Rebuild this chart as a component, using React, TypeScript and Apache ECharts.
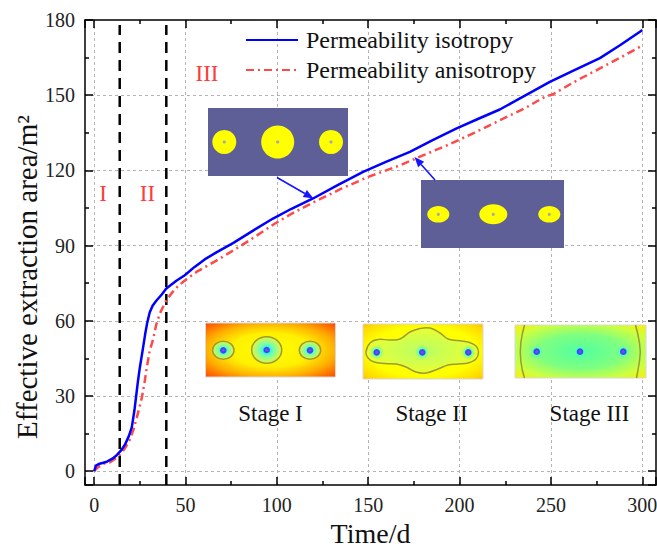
import React, { useEffect, useRef } from 'react';
import * as echarts from 'echarts';

const FONT = '"Liberation Serif", "Times New Roman", serif';

// Time (d) and effective extraction area (m²)
const isotropyData: [number, number][] = [
  [0, 0], [1, 2.2], [3, 3], [7, 3.8], [10, 5], [12.5, 6.5], [15, 8.5], [17, 10.8], [19, 14],
  [20.6, 17.5], [22, 24], [23, 30], [24, 36], [25, 41.3], [26.5, 48], [28, 55], [29, 59],
  [30.4, 63.3], [32, 66], [34, 68], [37, 70.5], [39.5, 72.9], [45, 76], [49.6, 78.2], [55, 81.5],
  [60.5, 84.5], [66.9, 87.3], [76, 91], [87, 96], [97.9, 100.8], [108, 104.7], [119.8, 108.8],
  [133, 114], [147.2, 119.4], [160, 123.5], [172.8, 127.4], [185, 132], [198.4, 136.8],
  [210, 140.5], [222, 144.3], [230.3, 147.6], [240, 151.5], [249.4, 155.3], [262, 159.7],
  [276.8, 164.8], [288, 170], [298.7, 175.3], [300, 176],
];

const anisotropyData: [number, number][] = [
  [0, 0], [2, 1.5], [5, 3], [8.5, 3.5], [12, 5.2], [14.9, 7.1], [17, 9.3], [19.4, 12.4],
  [21.5, 16.5], [23.3, 21.3], [24.8, 25.5], [26.1, 29.3], [27.5, 35], [28.8, 41.3], [30.4, 48],
  [32.4, 53], [34, 58.5], [36, 63], [39.5, 68.2], [44, 72.5], [48.6, 75.5], [56, 79.5],
  [66.9, 84], [76, 88], [85.2, 92.2], [97.9, 98.3], [108, 102.7], [119.8, 107.2], [135, 112.6],
  [150, 117.4], [167.3, 122], [180, 126], [194.7, 130.5], [208, 135], [222, 140],
  [235, 144.5], [247, 149.5], [251, 150.3], [262, 155], [276.8, 160.7], [288, 165],
  [298.7, 169.3], [300, 170.5],
];

// Stage boundaries (d)
const stageBoundaries = [14, 39.5];

const seriesNames = ['Permeability isotropy', 'Permeability anisotropy'];
const stageLabels = ['Stage I', 'Stage II', 'Stage III'];
const romanLabels = ['I', 'II', 'III'];

const X_MIN = -5;
const X_MAX = 307.5;
const Y_MIN = -5.5;
const Y_MAX = 180;

function arrow(x1: number, y1: number, x2: number, y2: number, color: string) {
  const dx = x2 - x1;
  const dy = y2 - y1;
  const len = Math.sqrt(dx * dx + dy * dy);
  const ux = dx / len;
  const uy = dy / len;
  const hl = 10;
  const hw = 4;
  const bx = x2 - ux * hl;
  const by = y2 - uy * hl;
  return [
    { type: 'line', z: 60, shape: { x1, y1, x2: bx, y2: by }, style: { stroke: color, lineWidth: 1.6 } },
    {
      type: 'polygon', z: 60,
      shape: { points: [[x2, y2], [bx - uy * hw, by + ux * hw], [bx + uy * hw, by - ux * hw]] },
      style: { fill: color },
    },
  ];
}

function well(cx: number, cy: number, glow: boolean) {
  const els: any[] = [];
  if (glow) {
    els.push({
      type: 'circle', z: 56, shape: { cx, cy, r: 8 },
      style: {
        fill: new echarts.graphic.RadialGradient(0.5, 0.5, 0.5, [
          { offset: 0, color: 'rgba(0,230,255,1)' },
          { offset: 0.5, color: 'rgba(60,255,200,0.6)' },
          { offset: 1, color: 'rgba(160,255,120,0)' },
        ]),
      },
    });
  }
  els.push({ type: 'circle', z: 57, shape: { cx, cy, r: 3.3 }, style: { fill: '#3050ff' } });
  els.push({ type: 'circle', z: 58, shape: { cx, cy, r: 1.2 }, style: { fill: '#b040c0' } });
  return els;
}

function buildGraphics() {
  const els: any[] = [];
  // Roman numerals
  const romanPos = [[103, 193], [147.5, 193], [207, 73]];
  romanLabels.forEach((t, i) => {
    els.push({
      type: 'text', z: 60, x: romanPos[i][0], y: romanPos[i][1],
      style: { text: t, fill: '#ff3b3b', font: `23px ${FONT}`, align: 'center', verticalAlign: 'middle' },
    });
  });

  // Y axis title
  els.push({
    type: 'text', z: 60, x: 27, y: 277, rotation: Math.PI / 2,
    style: { text: 'Effective extraction area/m²', fill: '#111', font: `29px ${FONT}`, align: 'center', verticalAlign: 'middle' },
  });

  // Top inset 1 (isotropy)
  els.push({ type: 'rect', z: 50, shape: { x: 208, y: 108, width: 140, height: 68 }, style: { fill: '#5f5f97' } });
  [[224.3, 142, 12], [277.7, 142, 16.5], [331, 142, 12]].forEach(([cx, cy, r]) => {
    els.push({ type: 'circle', z: 52, shape: { cx, cy, r }, style: { fill: '#ffff00' } });
    els.push({ type: 'circle', z: 53, shape: { cx, cy, r: 1.6 }, style: { fill: '#a8a8a8' } });
  });
  // Top inset 2 (anisotropy)
  els.push({ type: 'rect', z: 50, shape: { x: 421, y: 180, width: 143, height: 68 }, style: { fill: '#5f5f97' } });
  [[438.3, 214.3, 11, 8.3], [493.3, 214.3, 14, 10], [549.3, 214.3, 11, 8.3]].forEach(([cx, cy, rx, ry]) => {
    els.push({ type: 'ellipse', z: 52, shape: { cx, cy, rx, ry }, style: { fill: '#ffff00' } });
    els.push({ type: 'circle', z: 53, shape: { cx, cy, r: 1.6 }, style: { fill: '#a8a8a8' } });
  });
  els.push(...arrow(277, 177.5, 313.5, 198.5, '#1414ff'));
  els.push(...arrow(435, 180, 414.5, 157, '#1414ff'));

  // Stage I
  els.push({
    type: 'rect', z: 50, shape: { x: 205.5, y: 323, width: 130, height: 54 },
    style: {
      fill: new echarts.graphic.RadialGradient(0.5, 0.5, 0.75, [
        { offset: 0, color: '#ffff00' },
        { offset: 0.42, color: '#fff000' },
        { offset: 0.66, color: '#ffb000' },
        { offset: 1, color: '#ff3000' },
      ]),
      stroke: '#d8d8d8', lineWidth: 1,
    },
  });
  [[223.3, 350.3, 10.7, 9], [266.7, 350, 15, 13.3], [310, 350.3, 10.7, 9]].forEach(([cx, cy, rx, ry]) => {
    els.push({
      type: 'ellipse', z: 54, shape: { cx, cy, rx, ry },
      style: {
        fill: new echarts.graphic.RadialGradient(0.5, 0.5, 0.5, [
          { offset: 0, color: '#00e6ff' },
          { offset: 0.45, color: '#70ffb0' },
          { offset: 1, color: '#eaf53a' },
        ]),
        stroke: '#9c9c30', lineWidth: 1.5,
      },
    });
    els.push(...well(cx, cy, false));
  });

  // Stage II
  els.push({
    type: 'rect', z: 50, shape: { x: 363, y: 324, width: 120, height: 55 },
    style: {
      fill: new echarts.graphic.RadialGradient(0.5, 0.5, 0.75, [
        { offset: 0, color: '#ffff00' },
        { offset: 0.6, color: '#ffff00' },
        { offset: 0.85, color: '#ffd800' },
        { offset: 1, color: '#ffa800' },
      ]),
      stroke: '#d8d8d8', lineWidth: 1,
    },
  });
  els.push({
    type: 'polygon', z: 54,
    shape: {
      smooth: 0.4,
      points: [[366, 352], [370, 343], [378, 339.5], [390, 340], [400, 339], [410, 332], [420, 328.5],
        [430, 328], [440, 333], [448, 339], [458, 340.5], [468, 342], [476, 346], [478.5, 352],
        [476, 359], [468, 363], [458, 364], [448, 365], [438, 369], [426, 373], [416, 372],
        [406, 367], [396, 364], [384, 363.5], [374, 362], [368, 358]],
    },
    style: {
      fill: new echarts.graphic.RadialGradient(0.5, 0.5, 0.6, [
        { offset: 0, color: '#b8ff66' },
        { offset: 0.6, color: '#dcff40' },
        { offset: 1, color: '#f4ff20' },
      ]),
      stroke: '#9c9c30', lineWidth: 1.5,
    },
  });
  [[376.7, 352.3], [422.3, 352.3], [468.3, 352.3]].forEach(([cx, cy]) => els.push(...well(cx, cy, true)));

  // Stage III
  els.push({
    type: 'rect', z: 50, shape: { x: 515, y: 325, width: 131, height: 53 },
    style: {
      fill: new echarts.graphic.RadialGradient(0.5, 0.5, 0.72, [
        { offset: 0, color: '#50ffa0' },
        { offset: 0.45, color: '#80ff80' },
        { offset: 0.75, color: '#ccff40' },
        { offset: 1, color: '#ffee00' },
      ]),
      stroke: '#d8d8d8', lineWidth: 1,
    },
  });
  els.push({
    type: 'polyline', z: 54,
    shape: { points: [[524.5, 325], [522.3, 334], [520.8, 343], [520.3, 352], [520.8, 361], [522.3, 370], [524.5, 378]] },
    style: { stroke: '#9c9c30', lineWidth: 1.5, fill: null },
  });
  els.push({
    type: 'polyline', z: 54,
    shape: { points: [[635.5, 325], [637.8, 334], [639.5, 343], [640.3, 352], [639.5, 361], [638, 370], [636.5, 378]] },
    style: { stroke: '#9c9c30', lineWidth: 1.5, fill: null },
  });
  [[536.7, 351.7], [580, 351.7], [623.3, 351.7]].forEach(([cx, cy]) => els.push(...well(cx, cy, true)));

  // Stage labels
  const stagePos = [[270.5, 413], [431.5, 413], [589.5, 413]];
  stageLabels.forEach((t, i) => {
    els.push({
      type: 'text', z: 60, x: stagePos[i][0], y: stagePos[i][1],
      style: { text: t, fill: '#111', font: `23px ${FONT}`, align: 'center', verticalAlign: 'middle' },
    });
  });
  return els;
}

const axisLineStyle = { color: '#000', width: 1.5 };
const tickCommon = { inside: true, length: 8, lineStyle: { color: '#000', width: 1.5 } };
const minorCommon = { show: true, splitNumber: 2, length: 4, lineStyle: { color: '#000', width: 1.5 } };
const splitCommon = {
  show: true, showMinLine: false, showMaxLine: false,
  lineStyle: { color: '#b4b4b4', type: [3, 3], width: 1 },
};

export default function App() {
  const ref = useRef<HTMLDivElement>(null);
  useEffect(() => {
    if (!ref.current) return;
    const chart = echarts.init(ref.current, undefined, { renderer: 'svg' });
    const option: any = {
      animation: false,
      backgroundColor: '#ffffff',
      grid: { left: 85, right: 1, top: 20, bottom: 64, containLabel: false, outerBoundsMode: 'none' },
      legend: {
        data: seriesNames,
        orient: 'vertical',
        left: 240,
        top: 23,
        itemWidth: 52,
        itemHeight: 14,
        itemGap: 6,
        itemStyle: { opacity: 0 },
        textStyle: { fontFamily: FONT, fontSize: 24, color: '#111', lineHeight: 24, padding: [0, 0, 0, 3] },
      },
      xAxis: [
        {
          type: 'value', position: 'bottom', min: X_MIN, max: X_MAX, splitNumber: 6,
          name: 'Time/d', nameLocation: 'middle', nameGap: 33,
          nameTextStyle: { fontFamily: FONT, fontSize: 28, color: '#111', lineHeight: 28 },
          axisLine: { show: true, onZero: false, lineStyle: axisLineStyle },
          axisTick: tickCommon, minorTick: minorCommon,
          axisLabel: { showMinLabel: false, showMaxLabel: false, margin: 10, fontFamily: FONT, fontSize: 20, color: '#222' },
          splitLine: splitCommon,
        },
        {
          type: 'value', position: 'top', min: X_MIN, max: X_MAX, splitNumber: 6,
          axisLine: { show: true, onZero: false, lineStyle: axisLineStyle },
          axisTick: tickCommon, minorTick: minorCommon,
          axisLabel: { show: false }, splitLine: { show: false },
        },
      ],
      yAxis: [
        {
          type: 'value', position: 'left', min: Y_MIN, max: Y_MAX, splitNumber: 6,
          axisLine: { show: true, onZero: false, lineStyle: axisLineStyle },
          axisTick: tickCommon, minorTick: minorCommon,
          axisLabel: { showMinLabel: false, showMaxLabel: true, margin: 10, fontFamily: FONT, fontSize: 20, color: '#222' },
          splitLine: splitCommon,
        },
        {
          type: 'value', position: 'right', min: Y_MIN, max: Y_MAX, splitNumber: 6,
          axisLine: { show: true, onZero: false, lineStyle: axisLineStyle },
          axisTick: tickCommon, minorTick: minorCommon,
          axisLabel: { show: false }, splitLine: { show: false },
        },
      ],
      series: [
        {
          name: seriesNames[0], type: 'line', data: isotropyData, symbol: 'none', z: 5,
          lineStyle: { color: '#0000ff', width: 2.5 }, itemStyle: { color: '#0000ff' },
        },
        {
          name: seriesNames[1], type: 'line', data: anisotropyData, symbol: 'none', z: 4,
          lineStyle: { color: '#ff4a4a', width: 2.5, type: [8, 4, 2, 4] }, itemStyle: { color: '#ff4a4a' },
        },
        ...stageBoundaries.map((b) => ({
          name: 'boundary' + b, type: 'line', symbol: 'none', z: 3,
          data: [[b, Y_MIN], [b, 178]],
          lineStyle: { color: '#000', width: 2.5, type: [11, 7] },
        })),
      ],
      graphic: { elements: buildGraphics() },
    };
    chart.setOption(option);
    return () => chart.dispose();
  }, []);
  return <div ref={ref} style={{ position: 'fixed', left: 0, top: 0, width: 657, height: 549 }} />;
}
